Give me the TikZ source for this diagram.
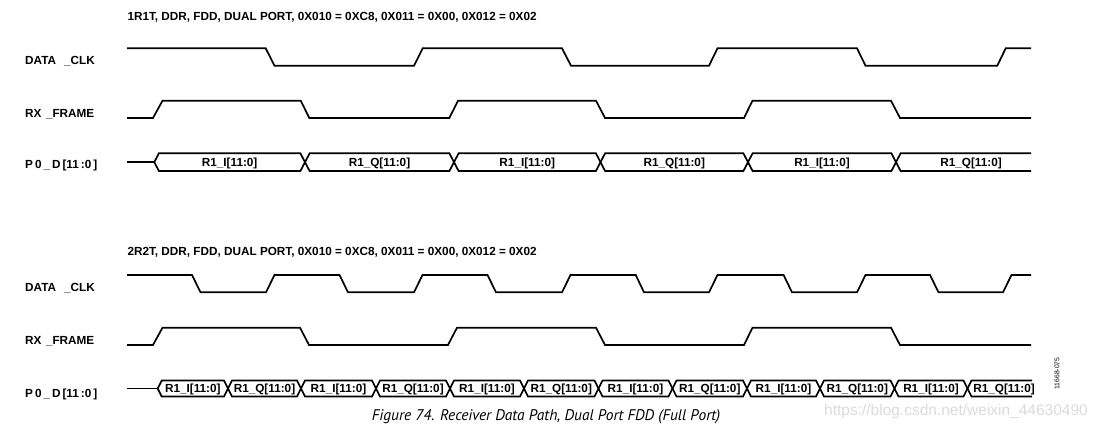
\documentclass[tikz,border=0pt]{standalone}
\usepackage{fontspec}
\setmainfont{Liberation Sans}
\newfontfamily\capfont{PT Sans}
\begin{document}
\begin{tikzpicture}[x=1pt,y=-1pt,
  wave/.style={line width=1.7pt, line join=miter},
  bfnt/.style={font=\bfseries\fontsize{11.75}{13}\selectfont},
  lbl/.style={bfnt, anchor=base west, inner sep=0pt},
  buslbl/.style={bfnt, anchor=base, inner sep=0pt}]
\useasboundingbox (0,0) rectangle (1104,428);

% ---------- titles ----------
\node[lbl] (title1) at (127.3,21) {1R1T, DDR, FDD, DUAL PORT, 0X010 = 0XC8, 0X011 = 0X00, 0X012 = 0X02};
\node[lbl] (title2) at (127.3,255) {2R2T, DDR, FDD, DUAL PORT, 0X010 = 0XC8, 0X011 = 0X00, 0X012 = 0X02};

% ---------- signal names ----------
\node[lbl] (clk1) at (25,64.3) {DATA\hspace{8pt}\_CLK};
\node[lbl] (frm1) at (25,117.3) {RX\hspace{4.5pt}\_FRAME};
\node[lbl] (pd1) at (25,168.5) {P\hspace{2pt}0\hspace{2pt}\_\hspace{2pt}D\hspace{2pt}[11\hspace{2pt}:0\hspace{2pt}]};
\node[lbl] (clk2) at (25,291.6) {DATA\hspace{8pt}\_CLK};
\node[lbl] (frm2) at (25,344.3) {RX\hspace{4.5pt}\_FRAME};
\node[lbl] (pd2) at (25,397) {P\hspace{2pt}0\hspace{2pt}\_\hspace{2pt}D\hspace{2pt}[11\hspace{2pt}:0\hspace{2pt}]};

% ---------- top: DATA_CLK ----------
\draw[wave] (127,48.3) -- (265.7,48.3) -- (274.5,65.7) -- (414,65.7) -- (422.7,48.3)
  -- (562,48.3) -- (571,65.7) -- (709,65.7) -- (717.5,48.3) -- (857,48.3) -- (865.5,65.7)
  -- (997.3,65.7) -- (1005.7,48.3) -- (1031,48.3);
% ---------- top: RX_FRAME ----------
\draw[wave] (127,118) -- (153,118) -- (162.5,100.7) -- (300.7,100.7) -- (309.3,118)
  -- (449.3,118) -- (458,100.7) -- (596,100.7) -- (605,118) -- (744,118) -- (752.5,100.7)
  -- (891,100.7) -- (900,118) -- (1031,118);
% ---------- top: bus ----------
\draw[wave] (127,162.2) -- (154.3,162.2);
\foreach \a/\b/\t [count=\i] in {154.3/305/I,305/454/Q,454/600.5/I,600.5/748/Q,748/896/I}{
  \draw[wave] (\a,162.2) -- (\a+4.6,153.3) -- (\b-4.6,153.3) -- (\b,162.2)
    -- (\b-4.6,171) -- (\a+4.6,171) -- cycle;
  \node[buslbl] (ta\i) at ({(\a+\b)/2},166.6) {R1\_\t[11:0]};
}
\draw[wave] (1031,153.3) -- (900.6,153.3) -- (896,162.2) -- (900.6,171) -- (1031,171);
\node[buslbl] (ta6) at (971,166.6) {R1\_Q[11:0]};

% ---------- bottom: DATA_CLK ----------
\draw[wave] (127,275) -- (192,275) -- (200.5,292.3) -- (266,292.3) -- (274.5,275)
  -- (339.5,275) -- (348,292.3) -- (414,292.3) -- (422.5,275) -- (487.5,275) -- (496,292.3)
  -- (562,292.3) -- (570.5,275) -- (635.7,275) -- (644,292.3) -- (709,292.3) -- (717.5,275)
  -- (783.6,275) -- (792,292.3) -- (857,292.3) -- (865.5,275) -- (930,275) -- (938.5,292.3)
  -- (1003,292.3) -- (1011.5,275) -- (1031,275);
% ---------- bottom: RX_FRAME ----------
\draw[wave] (127,345) -- (153,345) -- (162.5,327.7) -- (300,327.7) -- (309,345)
  -- (448,345) -- (457,327.7) -- (596,327.7) -- (605,345) -- (744,345) -- (752.5,327.7)
  -- (891,327.7) -- (900,345) -- (1031,345);
% ---------- bottom: bus ----------
\draw[wave] (127,388.5) -- (157.7,388.5);
\foreach \a/\b/\t [count=\i] in {157.7/228/I,228/301/Q,301/376/I,376/450/Q,450/524/I,524/598.5/Q,
    598.5/672.5/I,672.5/747/Q,747/820/I,820/894.5/Q,894.5/967.5/I}{
  \draw[wave] (\a,388.5) -- (\a+4,380.5) -- (\b-4,380.5) -- (\b,388.5)
    -- (\b-4,396.5) -- (\a+4,396.5) -- cycle;
  \node[buslbl] (tb\i) at ({(\a+\b)/2},392.8) {R1\_\t[11:0]};
}
\draw[wave] (1032,380.5) -- (971.5,380.5) -- (967.5,388.5) -- (971.5,396.5) -- (1032,396.5);
\node[buslbl] (tb12) at (1004,392.8) {R1\_Q[11:0]};

% ---------- extras ----------
\node[rotate=90, inner sep=0pt, font=\fontsize{6.8}{8}\selectfont] (figid) at (1057,373.5) {11668-075};
\node[inner sep=0pt, anchor=base, text=black!14, font=\fontsize{15.5}{17}\selectfont] (wm) at (956,415.5) {https://blog.csdn.net/weixin\_44630490};
\node[inner sep=0pt, anchor=base, font=\capfont\itshape\fontsize{15.4}{17}\selectfont] (cap) at (546,420.5) {Figure 74. Receiver Data Path, Dual Port FDD (Full Port)};
\end{tikzpicture}
\end{document}
